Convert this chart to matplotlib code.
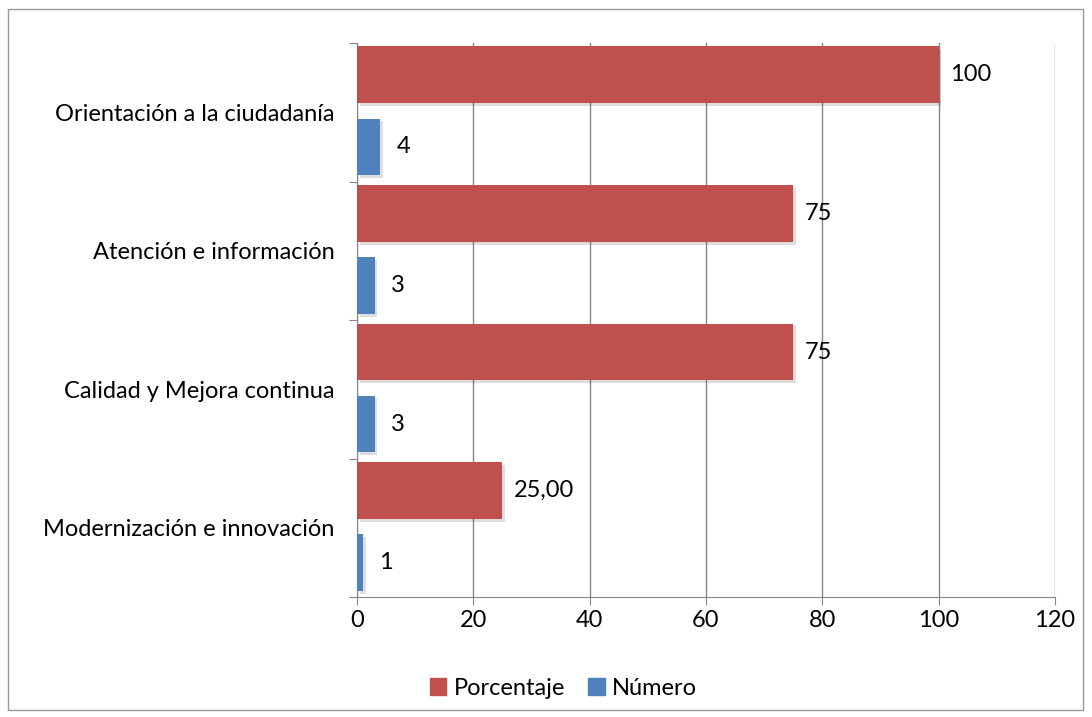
import matplotlib
matplotlib.use("Agg")
import matplotlib.pyplot as plt
import matplotlib.patheffects as pe
from matplotlib.patches import Rectangle, Patch
import numpy as np

plt.rcParams['font.family'] = ['Lato', 'DejaVu Sans']

categorias = ['Modernización e innovación', 'Calidad y Mejora continua',
              'Atención e información', 'Orientación a la ciudadanía']
porcentaje = [25, 75, 75, 100]
numero = [1, 3, 3, 4]
etiq_porcentaje = ['25,00', '75', '75', '100']
etiq_numero = ['1', '3', '3', '4']
x_ticks = [0, 20, 40, 60, 80, 100, 120]

rojo = '#C0504D'
azul = '#4F81BD'
gris = '#868686'
fs = 17

fig = plt.figure(figsize=(10.92, 7.17), dpi=100)
ax = fig.add_axes([0.327, 0.167, 0.639, 0.773])

# marco exterior
fig.patches.append(Rectangle((0.007, 0.010), 0.985, 0.978, transform=fig.transFigure,
                             fill=False, edgecolor='#9a9a9a', linewidth=1.0))

y = np.arange(len(categorias))
sombra = [pe.SimplePatchShadow(offset=(2, -2), alpha=0.15), pe.Normal()]
ax.barh(y + 0.77, porcentaje, height=0.41, color=rojo, path_effects=sombra, zorder=3)
ax.barh(y + 0.25, numero, height=0.41, color=azul, path_effects=sombra, zorder=3)

for yi, v, t in zip(y, porcentaje, etiq_porcentaje):
    ax.text(v + 2, yi + 0.77, t, va='center', ha='left', fontsize=fs)
for yi, v, t in zip(y, numero, etiq_numero):
    ax.text(v + 2.8, yi + 0.25, t, va='center', ha='left', fontsize=fs)

ax.set_xlim(0, 120)
ax.set_ylim(0, 4)
ax.set_xticks(x_ticks)
ax.set_xticklabels([str(t) for t in x_ticks], fontsize=fs)
ax.set_yticks(np.arange(0, 5))
ax.set_yticklabels([])
ax.set_yticks(y + 0.5, minor=True)
ax.set_yticklabels(categorias, minor=True, fontsize=fs)
ax.tick_params(axis='y', which='minor', length=0, pad=16)
ax.tick_params(axis='y', which='major', length=6, color=gris, direction='out')
ax.tick_params(axis='x', length=6, color=gris, direction='out', pad=3)

ax.grid(axis='x', color=gris, linewidth=1, zorder=0)
for s in ['top', 'right']:
    ax.spines[s].set_visible(False)
for s in ['left', 'bottom']:
    ax.spines[s].set_color(gris)

handles = [Patch(color=rojo), Patch(color=azul)]
fig.legend(handles=handles, labels=['Porcentaje', 'Número'], loc='center',
           bbox_to_anchor=(0.516, 0.04), ncol=2, frameon=False, fontsize=fs,
           handlelength=0.7, handleheight=0.7, handletextpad=0.3, columnspacing=1.0)

fig.savefig('out.png', dpi=100)
